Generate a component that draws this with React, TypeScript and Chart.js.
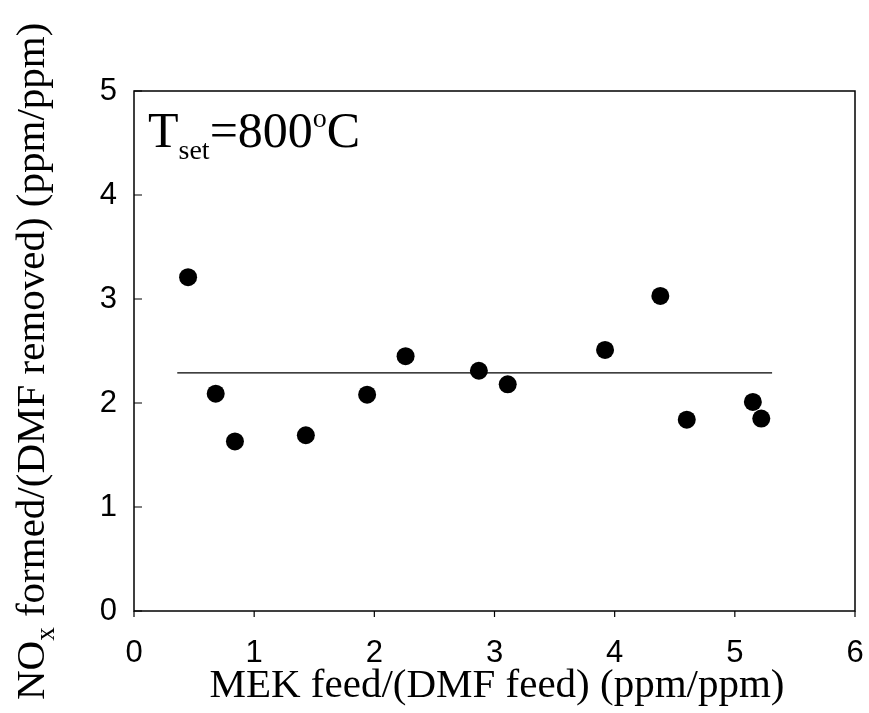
import React, { useEffect, useRef } from "react";
import { Chart, registerables } from "chart.js";

Chart.register(...registerables);

const mekRatio = [0.45, 0.68, 0.84, 1.43, 1.94, 2.26, 2.87, 3.11, 3.92, 4.38, 4.60, 5.15, 5.22];
const noxRatio = [3.21, 2.09, 1.63, 1.69, 2.08, 2.45, 2.31, 2.18, 2.51, 3.03, 1.84, 2.01, 1.85];
const meanLineX = [0.36, 5.31];
const meanLineY = [2.29, 2.29];
const xTicks = [0, 1, 2, 3, 4, 5, 6];
const yTicks = [0, 1, 2, 3, 4, 5];

const SERIF = "'Liberation Serif', 'Times New Roman', serif";
const SANS = "'Liberation Sans', Arial, sans-serif";

const decorPlugin = {
  id: "decor",
  afterDraw(chart: any) {
    const { ctx, chartArea } = chart;
    const xs = chart.scales.x;
    const ys = chart.scales.y;
    ctx.save();
    ctx.strokeStyle = "#000";
    ctx.lineWidth = 1.5;
    ctx.strokeRect(chartArea.left, chartArea.top, chartArea.right - chartArea.left, chartArea.bottom - chartArea.top);
    ctx.lineWidth = 1.2;
    ctx.beginPath();
    xTicks.forEach((v) => {
      const px = xs.getPixelForValue(v);
      ctx.moveTo(px, chartArea.bottom);
      ctx.lineTo(px, chartArea.bottom + 6);
    });
    yTicks.forEach((v) => {
      const py = ys.getPixelForValue(v);
      ctx.moveTo(chartArea.left, py);
      ctx.lineTo(chartArea.left + 8, py);
    });
    ctx.stroke();

    ctx.fillStyle = "#000";
    ctx.font = `41px ${SERIF}`;
    ctx.textAlign = "center";
    ctx.textBaseline = "alphabetic";
    ctx.fillText("MEK feed/(DMF feed) (ppm/ppm)", 497, 697);

    ctx.save();
    ctx.translate(44, 700);
    ctx.rotate(-Math.PI / 2);
    ctx.textAlign = "left";
    ctx.font = `41px ${SERIF}`;
    let x = 0;
    ctx.fillText("NO", x, 0);
    x += ctx.measureText("NO").width;
    ctx.font = `27px ${SERIF}`;
    ctx.fillText("x", x, 10);
    x += ctx.measureText("x").width;
    ctx.font = `41px ${SERIF}`;
    ctx.fillText(" formed/(DMF removed) (ppm/ppm)", x, 0);
    ctx.restore();

    ctx.textAlign = "left";
    let ax = 148;
    const base = 147;
    ctx.font = `50px ${SERIF}`;
    ctx.fillText("T", ax, base);
    ax += ctx.measureText("T").width;
    ctx.font = `28px ${SERIF}`;
    ctx.fillText("set", ax, base + 12);
    ax += ctx.measureText("set").width;
    ctx.font = `50px ${SERIF}`;
    ctx.fillText("=800", ax, base);
    ax += ctx.measureText("=800").width;
    ctx.font = `28px ${SERIF}`;
    ctx.fillText("o", ax, base - 20);
    ax += ctx.measureText("o").width;
    ctx.font = `50px ${SERIF}`;
    ctx.fillText("C", ax, base);
    ctx.restore();
  },
};

export default function App() {
  const ref = useRef<HTMLCanvasElement>(null);
  useEffect(() => {
    if (!ref.current) return;
    const chart = new Chart(ref.current, {
      type: "scatter",
      data: {
        datasets: [
          {
            type: "line",
            data: meanLineX.map((x, i) => ({ x, y: meanLineY[i] })),
            borderColor: "#000",
            borderWidth: 1.2,
            pointRadius: 0,
            fill: false,
          } as any,
          {
            data: mekRatio.map((x, i) => ({ x, y: noxRatio[i] })),
            backgroundColor: "#000",
            borderColor: "#000",
            pointRadius: 9,
            pointBorderWidth: 0,
          },
        ],
      },
      options: {
        animation: false,
        responsive: false,
        layout: { padding: { top: 91, right: 14, left: 0, bottom: 0 } },
        plugins: { legend: { display: false }, tooltip: { enabled: false } },
        scales: {
          x: {
            type: "linear",
            min: 0,
            max: 6,
            afterFit: (s: any) => { s.height = 102; s.paddingLeft = 0; s.paddingRight = 0; },
            grid: { display: false, drawTicks: false },
            border: { display: false },
            ticks: { stepSize: 1, color: "#000", font: { family: SANS, size: 31 }, padding: 24 },
          },
          y: {
            type: "linear",
            min: 0,
            max: 5,
            afterFit: (s: any) => { s.width = 134; s.paddingTop = 0; s.paddingBottom = 0; },
            grid: { display: false, drawTicks: false },
            border: { display: false },
            ticks: { stepSize: 1, color: "#000", font: { family: SANS, size: 31 }, padding: 17 },
          },
        },
      },
      plugins: [decorPlugin],
    });
    return () => chart.destroy();
  }, []);
  return (
    <div style={{ position: "absolute", left: 0, top: 0, width: 869, height: 713, background: "#fff" }}>
      <canvas ref={ref} width={869} height={713} />
    </div>
  );
}
